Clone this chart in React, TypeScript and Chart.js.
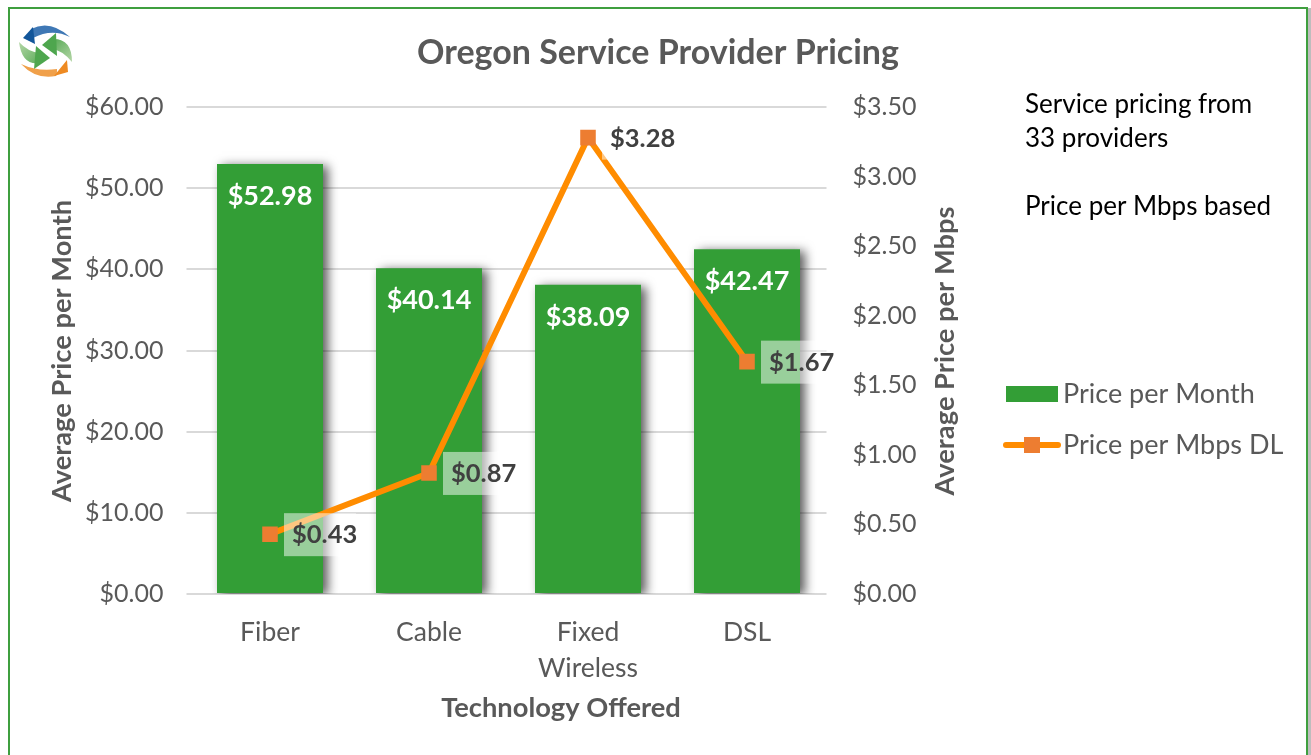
import React, { useEffect, useRef } from "react";
import { Chart, registerables } from "chart.js";

Chart.register(...registerables);

const categories: (string | string[])[] = ["Fiber", "Cable", ["Fixed", "Wireless"], "DSL"];
const pricePerMonth = [52.98, 40.14, 38.09, 42.47];
const pricePerMbps = [0.43, 0.87, 3.28, 1.67];
const chartTitle = "Oregon Service Provider Pricing";
const leftAxisTitle = "Average Price per Month";
const rightAxisTitle = "Average Price per Mbps";
const xAxisTitle = "Technology Offered";
const notes = ["Service pricing from", "33 providers", "", "Price per Mbps based"];

const FONT = "Lato, Carlito, Calibri, sans-serif";
const GREEN = "#339e36";
const ORANGE = "#ff8c00";
const MARKER = "#ed7d31";
const GREY = "#595959";
const GRID = "#d9d9d9";
const money = (v: number) => "$" + v.toFixed(2);

const barShadow = {
  id: "barShadow",
  beforeDatasetDraw(chart: any, args: any) {
    if (args.index !== 0) return;
    const c = chart.ctx;
    c.save();
    c.shadowColor = "rgba(0,0,0,0.65)";
    c.shadowBlur = 10;
    c.shadowOffsetX = 5;
    c.shadowOffsetY = 2;
  },
  afterDatasetDraw(chart: any, args: any) {
    if (args.index === 0) chart.ctx.restore();
  },
};

function drawLogo(c: CanvasRenderingContext2D) {
  const swoosh = (pts: number[], col: string | CanvasGradient) => {
    c.fillStyle = col;
    c.beginPath();
    c.moveTo(pts[0], pts[1]);
    for (let i = 2; i < pts.length; i += 4) c.quadraticCurveTo(pts[i], pts[i + 1], pts[i + 2], pts[i + 3]);
    c.closePath();
    c.fill();
  };
  const poly = (pts: number[], col: string) => {
    c.fillStyle = col;
    c.beginPath();
    c.moveTo(pts[0], pts[1]);
    for (let i = 2; i < pts.length; i += 2) c.lineTo(pts[i], pts[i + 1]);
    c.closePath();
    c.fill();
  };
  c.save();
  // blue arc + head
  swoosh([31, 29, 50, 19, 70, 37, 52, 28, 33, 38], "#3f78b5");
  poly([23, 38, 33, 27, 35, 44], "#12569a");
  // orange arc + head
  swoosh([21, 64, 38, 72, 57, 69, 57, 75, 56, 76, 36, 80, 21, 64], "#f0a04a");
  poly([67, 60, 68, 72, 54, 76], "#ee8a22");
  // green arrows
  const g1 = c.createLinearGradient(20, 40, 45, 65);
  g1.addColorStop(0, "#b6d7a8");
  g1.addColorStop(1, "#4ea64e");
  swoosh([19, 42, 28, 52, 40, 53, 40, 63, 40, 63, 22, 66, 19, 42], g1);
  poly([36, 46, 50, 58, 34, 69], "#4ea64e");
  const g2 = c.createLinearGradient(72, 62, 50, 38);
  g2.addColorStop(0, "#b6d7a8");
  g2.addColorStop(1, "#4ea64e");
  swoosh([72, 62, 62, 50, 52, 49, 52, 39, 52, 39, 72, 38, 72, 62], g2);
  poly([56, 33, 57, 56, 42, 45], "#4ea64e");
  c.restore();
}

const decorations = {
  id: "decorations",
  afterDraw(chart: any) {
    const c: CanvasRenderingContext2D = chart.ctx;
    c.save();

    // frame
    c.fillStyle = "#bdbdbd";
    c.fillRect(1308, 8, 3, 747);
    c.strokeStyle = "#3f9f3f";
    c.lineWidth = 2;
    c.beginPath();
    c.moveTo(9, 755);
    c.lineTo(9, 8);
    c.lineTo(1307, 8);
    c.lineTo(1307, 755);
    c.stroke();

    drawLogo(c);

    // axis titles
    c.fillStyle = GREY;
    c.font = `bold 27.3px ${FONT}`;
    c.textAlign = "center";
    c.textBaseline = "middle";
    c.fillText(xAxisTitle, 561, 708);
    for (const [text, x] of [[leftAxisTitle, 62], [rightAxisTitle, 945]] as [string, number][]) {
      c.save();
      c.translate(x, 351);
      c.rotate(-Math.PI / 2);
      c.fillText(text, 0, 0);
      c.restore();
    }

    // notes
    c.fillStyle = "#000";
    c.font = `26px ${FONT}`;
    c.textAlign = "left";
    notes.forEach((line, i) => c.fillText(line, 1025, 105 + i * 34));

    // bar labels
    c.font = `bold 27px ${FONT}`;
    c.textAlign = "center";
    c.fillStyle = "#fff";
    chart.getDatasetMeta(0).data.forEach((el: any, i: number) => {
      c.fillText(money(pricePerMonth[i]), el.x, el.y + 32);
    });

    // line labels
    c.font = `bold 25.5px ${FONT}`;
    c.textAlign = "left";
    chart.getDatasetMeta(1).data.forEach((el: any, i: number) => {
      c.fillStyle = "rgba(255,255,255,0.5)";
      c.fillRect(el.x + 14, el.y - 21, 72, 43);
      c.fillStyle = "#404040";
      c.fillText(money(pricePerMbps[i]), el.x + 22, el.y + 1);
    });

    // legend
    const [bar, line] = chart.data.datasets;
    c.font = `27px ${FONT}`;
    c.fillStyle = GREY;
    c.fillText(bar.label, 1063, 394);
    c.fillText(line.label, 1063, 445);
    c.fillStyle = GREEN;
    c.fillRect(1006, 386, 52, 16);
    c.strokeStyle = ORANGE;
    c.lineWidth = 6;
    c.lineCap = "round";
    c.beginPath();
    c.moveTo(1006, 445);
    c.lineTo(1058, 445);
    c.stroke();
    c.fillStyle = MARKER;
    c.fillRect(1024, 437, 16, 16);
    c.restore();
  },
};

export default function App() {
  const ref = useRef<HTMLCanvasElement>(null);
  useEffect(() => {
    const chart = new Chart(ref.current!, {
      type: "bar",
      data: {
        labels: categories as any,
        datasets: [
          {
            type: "bar",
            label: "Price per Month",
            data: pricePerMonth,
            backgroundColor: GREEN,
            yAxisID: "y",
            order: 2,
            categoryPercentage: 1,
            barPercentage: 0.6667,
          },
          {
            type: "line",
            label: "Price per Mbps DL",
            data: pricePerMbps,
            borderColor: ORANGE,
            borderWidth: 6,
            backgroundColor: MARKER,
            pointBackgroundColor: MARKER,
            pointBorderColor: MARKER,
            pointBorderWidth: 0,
            pointStyle: "rect",
            pointRadius: 11,
            tension: 0,
            yAxisID: "y1",
            order: 1,
          },
        ] as any,
      },
      options: {
        responsive: false,
        animation: false,
        layout: { padding: { left: 5 } },
        plugins: {
          legend: { display: false },
          tooltip: { enabled: false },
          title: {
            display: true,
            text: chartTitle,
            color: GREY,
            font: { family: FONT, size: 34, weight: "bold", lineHeight: 1.2 },
            padding: { top: 33, bottom: 33.2 },
          },
        },
        scales: {
          x: {
            grid: { display: false },
            border: { display: false },
            afterFit: (s: any) => { s.height = 161; },
            ticks: {
              color: GREY,
              font: { family: FONT, size: 26.5, lineHeight: 1.36 },
              padding: 12,
              maxRotation: 0,
              autoSkip: false,
            },
          },
          y: {
            position: "left",
            min: 0,
            max: 60,
            afterFit: (s: any) => { s.width = 185.5; },
            grid: { color: GRID, lineWidth: 2, tickLength: 4, tickColor: GRID },
            border: { display: false },
            ticks: {
              stepSize: 10,
              color: GREY,
              font: { family: FONT, size: 25 },
              padding: 23,
              callback: (v: any) => money(Number(v)),
            },
          },
          y1: {
            position: "right",
            min: 0,
            max: 3.5,
            afterFit: (s: any) => { s.width = 484.5; },
            grid: { display: false, drawOnChartArea: false },
            border: { display: false },
            ticks: {
              stepSize: 0.5,
              color: GREY,
              font: { family: FONT, size: 25 },
              padding: 18,
              callback: (v: any) => money(Number(v)),
            },
          },
        },
      } as any,
      plugins: [barShadow, decorations],
    });
    return () => chart.destroy();
  }, []);
  return (
    <div style={{ position: "absolute", left: 0, top: 0, width: 1311, height: 755, background: "#fff", overflow: "hidden" }}>
      <canvas ref={ref} width={1311} height={755} style={{ display: "block" }} />
    </div>
  );
}
